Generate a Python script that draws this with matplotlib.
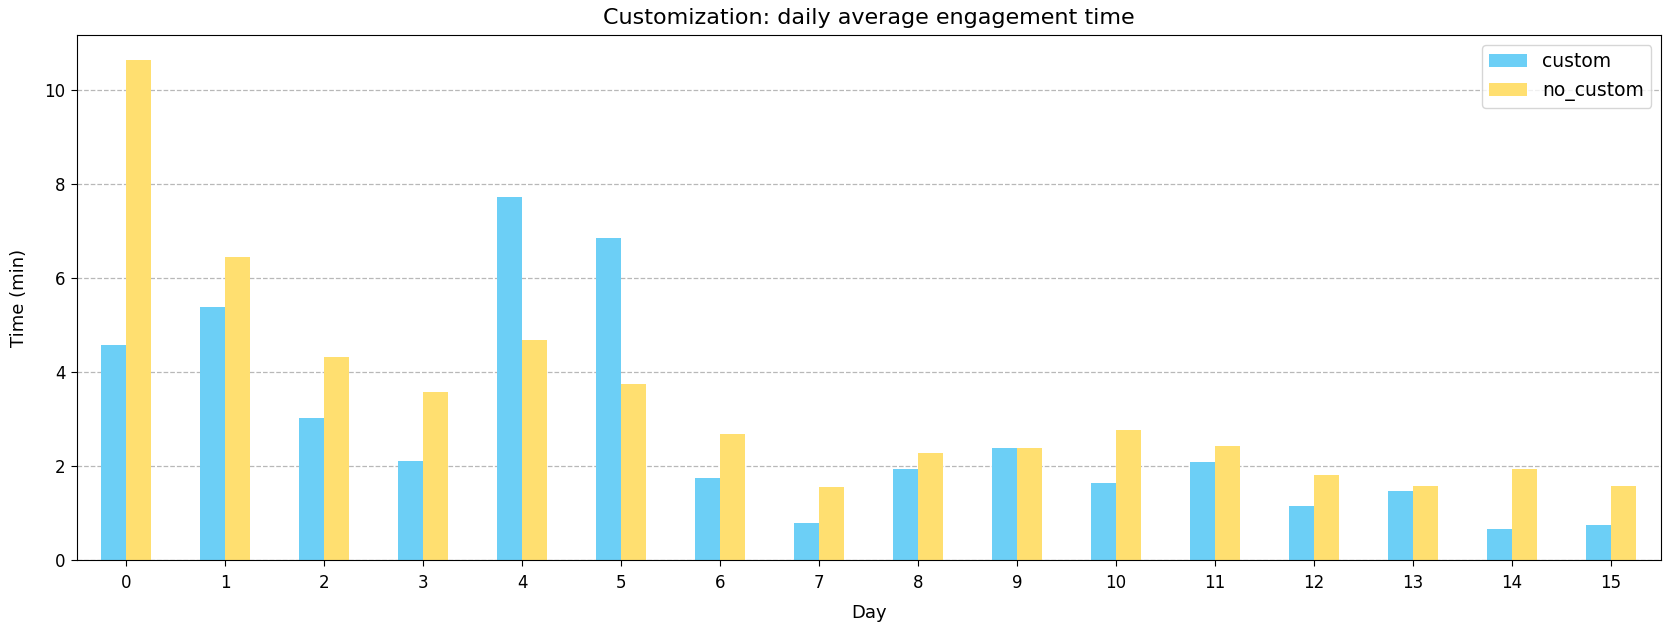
import matplotlib

matplotlib.use("Agg")
import matplotlib.pyplot as plt
import numpy as np

days = list(range(16))
custom = [4.58, 5.39, 3.03, 2.11, 7.73, 6.86, 1.75, 0.80,
          1.94, 2.40, 1.65, 2.09, 1.15, 1.47, 0.67, 0.75]
no_custom = [10.63, 6.45, 4.33, 3.59, 4.69, 3.76, 2.69, 1.56,
             2.29, 2.40, 2.78, 2.43, 1.82, 1.59, 1.94, 1.59]

BLUE = "#6ccff6"
YELLOW = "#ffdf70"

fig, ax = plt.subplots(figsize=(16.64, 6.22), dpi=100)
x = np.arange(len(days))
w = 0.25
ax.bar(x - w / 2, custom, width=w, color=BLUE, label="custom")
ax.bar(x + w / 2, no_custom, width=w, color=YELLOW, label="no_custom")

ax.set_xticks(x)
ax.set_xticklabels([str(d) for d in days])
ax.set_xlim(-0.5, len(days) - 0.5)
ax.set_yticks([0, 2, 4, 6, 8, 10])
ax.tick_params(labelsize=12, length=4.5)
ax.tick_params(axis="x", pad=5)
ax.yaxis.grid(True, linestyle="--", color="#b8b8b8", linewidth=0.9)
ax.set_axisbelow(True)

ax.set_xlabel("Day", fontsize=13, labelpad=9)
ax.set_ylabel("Time (min)", fontsize=13, labelpad=12)
ax.set_title("Customization: daily average engagement time", fontsize=16, pad=8)
ax.legend(loc="upper right", fontsize=13.5)

fig.subplots_adjust(left=0.046, right=0.998, bottom=0.099, top=0.943)
fig.savefig("out.png", dpi=100)
